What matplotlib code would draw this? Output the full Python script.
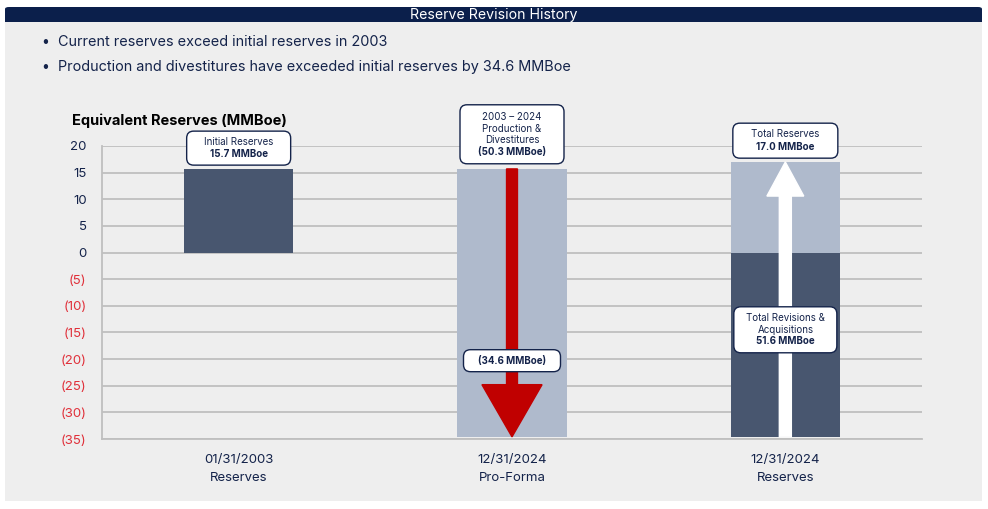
import matplotlib
matplotlib.use("Agg")
import matplotlib.pyplot as plt
from matplotlib.patches import FancyBboxPatch, Rectangle, FancyArrow
from matplotlib.transforms import ScaledTranslation

plt.rcParams['font.family'] = ['Inter', 'DejaVu Sans']

# ---- data ----
categories = ["01/31/2003\nReserves", "12/31/2024\nPro-Forma", "12/31/2024\nReserves"]
initial_reserves = 15.7
production_divest = 50.3
net_shortfall = -34.6
revisions_acq = 51.6
total_reserves = 17.0
yticks = [20, 15, 10, 5, 0, -5, -10, -15, -20, -25, -30, -35]
ytick_labels = ["20", "15", "10", "5", "0", "(5)", "(10)", "(15)", "(20)", "(25)", "(30)", "(35)"]
bullets = ["Current reserves exceed initial reserves in 2003",
           "Production and divestitures have exceeded initial reserves by 34.6 MMBoe"]

NAVY = "#14234A"
DARK = "#48566F"
LIGHT = "#AFBACC"
RED = "#C00000"
NEG = "#E0303A"
PANEL = "#EEEEEE"

fig = plt.figure(figsize=(9.88, 5.09), dpi=100)
fig.patch.set_facecolor("white")
W, H = 988, 509

def fx(px): return px / W
def fy(py): return 1 - py / H

# panel background
fig.patches.append(Rectangle((fx(5), fy(501)), fx(977), (501 - 20) / H,
                             transform=fig.transFigure, facecolor=PANEL, edgecolor="none", zorder=-3))
# header bar
fig.patches.append(FancyBboxPatch((fx(5), fy(22)), fx(977), 15 / H,
                                  boxstyle="round,pad=0,rounding_size=0.004",
                                  transform=fig.transFigure, facecolor="#0B1F4B", edgecolor="none", zorder=-2))
fig.patches.append(Rectangle((fx(5), fy(22)), fx(977), 6 / H,
                             transform=fig.transFigure, facecolor="#0B1F4B", edgecolor="none", zorder=-2))
fig.text(fx(494), fy(15), "Reserve Revision History", color="white", fontsize=10.2,
         ha="center", va="center")

for i, b in enumerate(bullets):
    yy = fy(42 + 25 * i)
    fig.text(fx(41), yy, "•", color=NAVY, fontsize=10, ha="left", va="center")
    fig.text(fx(58), yy, b, color=NAVY, fontsize=10.4, ha="left", va="center")

ax = fig.add_axes([fx(102), fy(439), fx(820), (439 - 146) / H])
ax.set_zorder(2)
ax.set_facecolor("none")
ax.set_xlim(-0.5, 2.5)
ax.set_ylim(-35, 20)
ax.set_axisbelow(True)
ax.set_yticks(yticks)
ax.set_yticklabels(ytick_labels)
for lbl, v in zip(ax.get_yticklabels(), yticks):
    lbl.set_color(NEG if v < 0 else NAVY)
    lbl.set_fontsize(9.5)
ax.tick_params(axis="y", length=0, pad=11)
ax.tick_params(axis="x", length=0, pad=11)
ax.set_xticks(range(3))
ax.set_xticklabels(categories, fontsize=9.5, color=NAVY, linespacing=1.6)
ax.yaxis.grid(True, color="#BFBFBF", linewidth=1.3)
for s in ["top", "right"]:
    ax.spines[s].set_visible(False)
for s in ["left", "bottom"]:
    ax.spines[s].set_color("#BFBFBF")
    ax.spines[s].set_linewidth(1.3)

bw = 0.4
ax.bar(0, initial_reserves, width=bw, color=DARK, zorder=2)
ax.bar(1, initial_reserves - net_shortfall, bottom=net_shortfall, width=bw, color=LIGHT, zorder=2)
ax.bar(2, net_shortfall, width=bw, color=DARK, zorder=2)
ax.bar(2, total_reserves, width=bw, color=LIGHT, zorder=2)

# arrows
ax.add_patch(FancyArrow(1, initial_reserves, 0, net_shortfall - initial_reserves,
                        width=0.04, head_width=0.22, head_length=9.8,
                        length_includes_head=True, color=RED, zorder=3))
ax.add_patch(FancyArrow(2, net_shortfall, 0, total_reserves - net_shortfall,
                        width=0.044, head_width=0.135, head_length=6.4,
                        length_includes_head=True, color="white", zorder=3))

fig.text(fx(72), fy(121), "Equivalent Reserves (MMBoe)", fontsize=10.5,
         fontweight="bold", color="black", ha="left", va="center")

def label_box(x, y, w, h, lines, spacing=11.5):
    tr = fig.dpi_scale_trans + ScaledTranslation(x, y, ax.transData)
    p = FancyBboxPatch((-w / 200, -h / 200), w / 100, h / 100,
                       boxstyle="round,pad=0,rounding_size=0.07",
                       transform=tr, facecolor="white", edgecolor=NAVY,
                       linewidth=1.0, zorder=5, clip_on=False)
    ax.add_patch(p)
    n = len(lines)
    for k, (t, bold) in enumerate(lines):
        off = ((n - 1) / 2 - k) * spacing
        ax.annotate(t, xy=(x, y), xytext=(0, off * 0.72), textcoords="offset points",
                    ha="center", va="center", fontsize=7,
                    fontweight="bold" if bold else "normal", color=NAVY,
                    zorder=6, annotation_clip=False)

label_box(0, 19.6, 104, 34, [("Initial Reserves", False), ("15.7 MMBoe", True)], spacing=12.5)
label_box(1, 22.2, 104, 59, [("2003 \u2013 2024", False), ("Production &", False),
                             ("Divestitures", False), ("(50.3 MMBoe)", True)])
label_box(2, 21.0, 105, 35, [("Total Reserves", False), ("17.0 MMBoe", True)], spacing=12.5)
label_box(1, -20.3, 97, 22, [("(34.6 MMBoe)", True)])
label_box(2, -14.5, 103, 46, [("Total Revisions &", False), ("Acquisitions", False),
                              ("51.6 MMBoe", True)])

fig.savefig("out.png", dpi=100)
